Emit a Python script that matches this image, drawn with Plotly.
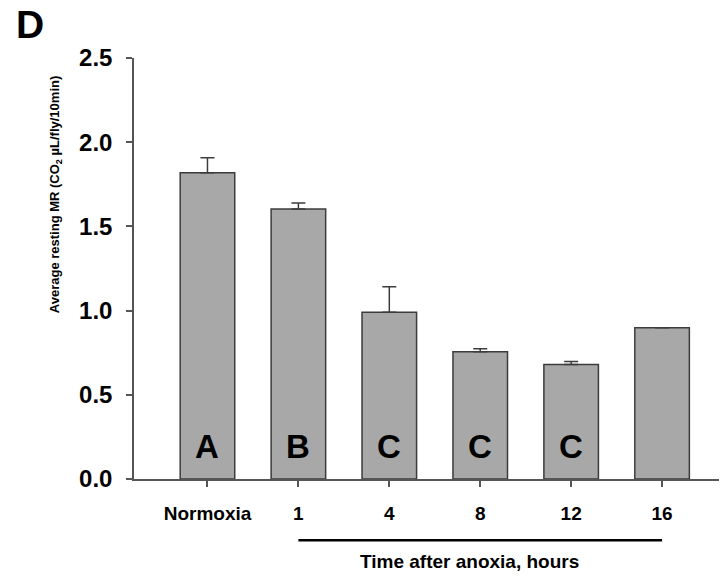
import plotly.graph_objects as go

categories = ["Normoxia", "1", "4", "8", "12", "16"]
mean_mr = [1.818, 1.604, 0.990, 0.755, 0.680, 0.898]
err_up = [0.090, 0.035, 0.152, 0.018, 0.018, 0.0]
letters = ["A", "B", "C", "C", "C", ""]
y_ticks = [0.0, 0.5, 1.0, 1.5, 2.0, 2.5]

OFF = 8  # page body margin
W, H = 727 - OFF, 578 - OFF
L, R = 133.5 - OFF, 0
T = 58.3 - OFF
B = H - (479.5 - OFF)
pw = W - L - R
ph = H - T - B

def px_x(px):
    return (px - OFF - L) / pw

def px_y(py):
    return (H - B - (py - OFF)) / ph

fig = go.Figure()
fig.add_trace(go.Bar(
    x=list(range(len(categories))), y=mean_mr, width=0.6,
    marker=dict(color="#a8a8a8", line=dict(color="#3c3c3c", width=1.5)),
    error_y=dict(type="data", array=err_up, arrayminus=[0] * len(err_up),
                 symmetric=False, color="#3c3c3c", thickness=1.5, width=7),
    showlegend=False, hoverinfo="skip",
))

annotations = []
for i, l in enumerate(letters):
    if l:
        annotations.append(dict(x=i, y=0.195, xref="x", yref="y", text=l,
                                showarrow=False, xanchor="center", yanchor="middle",
                                font=dict(family="Liberation Sans", size=33, color="black", weight="bold")))

annotations.append(dict(x=px_x(55), y=px_y(195), xref="paper", yref="paper",
                        text="Average resting MR (CO<sub>2</sub> µL/fly/10min)",
                        textangle=-90, showarrow=False, xanchor="center", yanchor="middle",
                        font=dict(family="Liberation Sans", size=13,
                                  color="black", weight="bold")))
annotations.append(dict(x=px_x(469), y=px_y(561.7), xref="paper", yref="paper",
                        text="Time after anoxia, hours", showarrow=False,
                        xanchor="center", yanchor="middle",
                        font=dict(family="Liberation Sans", size=19, color="black", weight="bold")))
annotations.append(dict(x=px_x(13), y=px_y(25), xref="paper", yref="paper",
                        text="D", showarrow=False, xanchor="left", yanchor="middle",
                        font=dict(family="Liberation Sans", size=39, color="black", weight="bold")))

fig.add_shape(type="line", xref="x", yref="paper", x0=1, x1=5,
              y0=px_y(540.7), y1=px_y(540.7), line=dict(color="black", width=2.5))

fig.update_layout(
    width=W, height=H,
    margin=dict(l=L, r=R, t=T, b=B, pad=0),
    paper_bgcolor="white", plot_bgcolor="white",
    annotations=annotations,
)
fig.update_xaxes(
    range=[-0.808, 5.714], tickvals=list(range(len(categories))), ticktext=categories,
    showline=True, linecolor="#555555", linewidth=1.5,
    ticks="outside", ticklen=6, tickcolor="#555555", tickwidth=1.5,
    showgrid=False, zeroline=False, ticklabelstandoff=10,
    tickfont=dict(family="Liberation Sans", size=19, color="black", weight="bold"),
)
fig.update_yaxes(
    range=[0, 2.5], tickvals=y_ticks, ticktext=[f"{v:.1f}" for v in y_ticks],
    showline=True, linecolor="#555555", linewidth=1.5,
    ticks="outside", ticklen=6, tickcolor="#555555", tickwidth=1.5,
    showgrid=False, zeroline=False, ticklabelstandoff=9,
    tickfont=dict(family="Liberation Sans", size=24, color="black", weight="bold"),
)

fig.write_html("out.html")
